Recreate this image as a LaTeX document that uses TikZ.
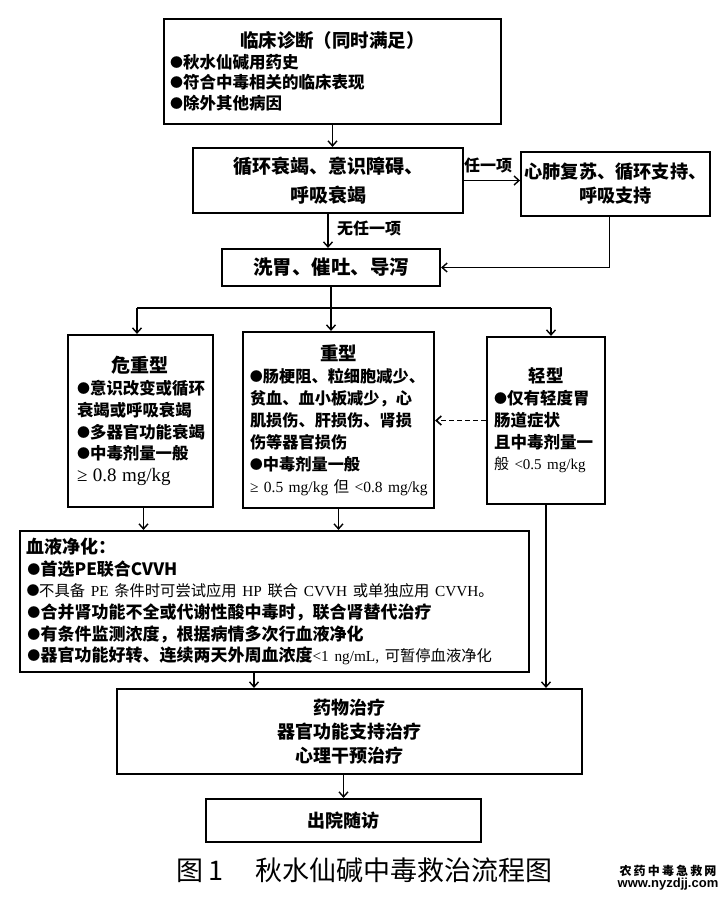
\documentclass[tikz,border=0pt]{standalone}
\usepackage{fontspec}
\setmainfont{Liberation Serif}
\newfontfamily\cjk{Noto Sans CJK SC}
\newfontfamily\urlsans{Liberation Sans}
\usetikzlibrary{arrows.meta}

% title line centred over the box, bullet lines below it
\newcommand\ttl[2]{\hbox to\hsize{\hss\fontsize{#1}{0}\selectfont#2\hss}\par}
% plain (not bold) text: latin numbers and thin chinese
\newcommand\numtxt[1]{{\rmfamily\mdseries #1}}
\newcommand\thintxt[1]{{\mdseries #1}}
\newcommand\fs[2]{\fontsize{#1}{#2}\selectfont}
\newcommand\bul{\makebox[.8em]{\fontsize{13}{0}\selectfont\raisebox{1pt}{●}}}

\begin{document}
\begin{tikzpicture}[x=1pt,y=-1pt,
	box/.style={draw,line width=2.2pt,inner ysep=0pt,font=\cjk\bfseries\fs{17.5}{21.5}},
	arr/.style={-{Straight Barb[length=5pt,width=9pt]},line width=1.4pt},
	lbl/.style={font=\cjk\bfseries\fs{16}{18},inner sep=0pt}]
	
	\useasboundingbox (0,0) rectangle (728,898);
	\fill[white] (0,0) rectangle (728,898);
	
	% diagnosis and first checks
	\node[box,minimum width=337pt,minimum height=105pt,inner xsep=6pt,text width=325pt,font=\cjk\bfseries\fs{16.5}{20.5}] (diag) at (332.5,71.5)
	{\ttl{18.5}{临床诊断（同时满足）}\bul 秋水仙碱用药史\\\bul 符合中毒相关的临床表现\\\bul 除外其他病因};
	\node[box,minimum width=270pt,minimum height=65pt,align=center,font=\cjk\bfseries\fs{19}{29}] (sign) at (328,180.5)
	{循环衰竭、意识障碍、\\呼吸衰竭};
	\node[box,minimum width=185pt,minimum height=64pt,align=center,font=\cjk\bfseries\fs{18.2}{24}] (cpr) at (615.5,184)
	{心肺复苏、循环支持、\\呼吸支持};
	\node[box,minimum width=218pt,minimum height=37pt,font=\cjk\bfseries\fs{19.5}{22}] (wash) at (331,267.5)
	{洗胃、催吐、导泻};
	
	% three grades
	\node[box,minimum width=145pt,minimum height=172pt,inner xsep=9pt,text width=127pt,font=\cjk\bfseries\fs{16.4}{21.8}] (crit) at (140.5,421)
	{\ttl{19}{危重型}\bul 意识改变或循环\\衰竭或呼吸衰竭\\\bul 多器官功能衰竭\\\bul 中毒剂量一般\\\numtxt{\fs{19}{21.8}≥ 0.8 mg/kg}};
	\node[box,minimum width=191pt,minimum height=176pt,inner xsep=7pt,text width=177pt,font=\cjk\bfseries\fs{16.2}{22}] (severe) at (338.5,420)
	{\ttl{18.5}{重型}\bul 肠梗阻、粒细胞减少、\\贫血、血小板减少，心\\肌损伤、肝损伤、肾损\\伤等器官损伤\\\bul 中毒剂量一般\\\numtxt{\fs{15.5}{22}\mbox{≥ 0.5 mg/kg {\cjk 但} <0.8 mg/kg}}};
	\node[box,minimum width=118pt,minimum height=167pt,inner xsep=7pt,text width=104pt,font=\cjk\bfseries\fs{16.5}{21.75}] (mild) at (546,420.5)
	{\ttl{17.5}{轻型}\bul 仅有轻度胃\\肠道症状\\且中毒剂量一\\\numtxt{\fs{15}{21.75}\mbox{{\cjk 般} <0.5 mg/kg}}};
	
	% treatment
	\node[box,minimum width=509pt,minimum height=141pt,inner xsep=7pt,text width=495pt,font=\cjk\bfseries\fs{17}{21.6}] (blood) at (274.5,601.5)
	{{\fs{18}{21.6}血液净化：}\\\bul 首选PE联合CVVH\\\thintxt{\fs{15.3}{21.6}\mbox{\bul 不具备 \numtxt{PE} 条件时可尝试应用 \numtxt{HP} 联合 \numtxt{CVVH} 或单独应用 \numtxt{CVVH}。}}\\\bul 合并肾功能不全或代谢性酸中毒时，联合肾替代治疗\\\bul 有条件监测浓度，根据病情多次行血液净化\\\mbox{\bul 器官功能好转、连续两天外周血浓度{\fs{15.3}{21.6}\numtxt{<1 ng/mL,} \thintxt{可暂停血液净化}}}};
	\node[box,minimum width=465pt,minimum height=85pt,align=center,font=\cjk\bfseries\fs{18}{24}] (drug) at (349.5,731.5)
	{药物治疗\\器官功能支持治疗\\心理干预治疗};
	\node[box,minimum width=275pt,minimum height=43pt,font=\cjk\bfseries\fs{18}{20}] (disc) at (343.5,820.5)
	{出院随访};
	
	% caption and mark
	\node[font=\cjk\fs{27}{30},inner sep=0pt] (cap) at (364.5,870) {图\,1\hspace{32pt}秋水仙碱中毒救治流程图};
	\node[align=center,inner sep=0pt] (mark) at (668,878)
	{{\cjk\bfseries\fs{12}{14}\addfontfeature{LetterSpace=18}农药中毒急救网}\\{\urlsans\bfseries\fs{13}{13}www.nyzdjj.com}};
	
	% connectors
	\draw[arr] (diag.south) -- (diag.south |- sign.north);
	\draw[arr] (sign.east) -- (sign.east -| cpr.west);
	\node[lbl] (any) at (488,165) {任一项};
	\draw[arr] (sign.south) -- (sign.south |- wash.north);
	\node[lbl,anchor=west] (none) at (337,228) {无任一项};
	\draw[arr] ([xshift=-6pt]cpr.south) |- (wash.east);
	
	\coordinate (split) at ([yshift=-21pt]wash.south);
	\draw[line width=1.4pt] (wash.south) -- (split);
	\draw[line width=1.4pt] ([xshift=-3.5pt]crit.north |- split) -- ([xshift=5pt]mild.north |- split);
	\draw[arr] ([xshift=-3.5pt]crit.north |- split) -- ([xshift=-3.5pt]crit.north);
	\draw[arr] (split) -- (split |- severe.north);
	\draw[arr] ([xshift=5pt]mild.north |- split) -- ([xshift=5pt]mild.north);
	\draw[arr,line width=1.6pt,dash pattern=on 5pt off 3pt] (mild.west) -- (mild.west -| severe.east);
	
	\draw[arr] ([xshift=3pt]crit.south) -- ([xshift=3pt]crit.south |- blood.north);
	\draw[arr] (severe.south) -- (severe.south |- blood.north);
	\draw[arr] (mild.south) -- (mild.south |- drug.north);
	\draw[arr] ([xshift=-20.5pt]blood.south) -- ([xshift=-20.5pt]blood.south |- drug.north);
	\draw[arr] (disc.north |- drug.south) -- (disc.north);
	
\end{tikzpicture}
\end{document}
